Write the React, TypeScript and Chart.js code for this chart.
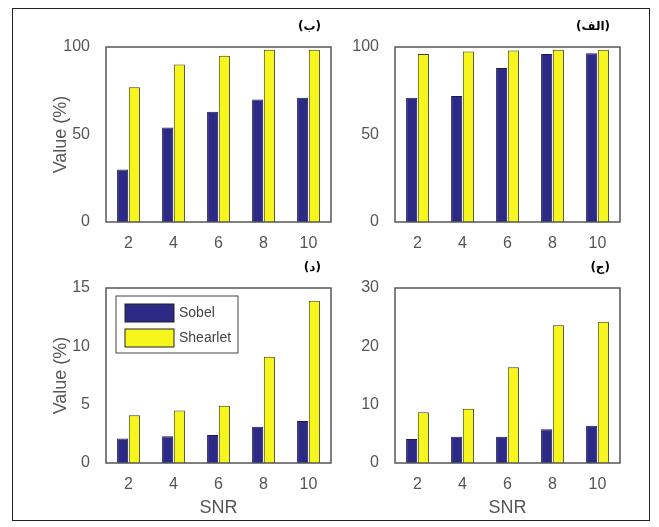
import { useEffect, useRef } from "react";
import Chart from "chart.js/auto";

const snr = ["2", "4", "6", "8", "10"];

const sobelB = [30, 54, 63, 70, 71];
const shearletB = [77, 90, 95, 98.5, 98.5];
const sobelAlef = [71, 72, 88, 96, 96.5];
const shearletAlef = [96, 97.5, 98, 98.5, 98.5];
const sobelD = [2.1, 2.3, 2.4, 3.1, 3.6];
const shearletD = [4.1, 4.5, 4.9, 9.1, 13.9];
const sobelJ = [4.1, 4.5, 4.5, 5.8, 6.4];
const shearletJ = [8.7, 9.3, 16.4, 23.6, 24.2];

const SOBEL = "#2c2a86";
const SHEARLET = "#f6f51c";
const PLOT_W = 225;
const PLOT_H = 175;
const Y_W = 60;
const PAD_TOP = 35;
const PAD_RIGHT = 15;

interface PanelProps {
  left: number;
  top: number;
  label: string;
  sobel: number[];
  shearlet: number[];
  max: number;
  step: number;
  yTitle: boolean;
  xTitle: boolean;
  legend: boolean;
}

function Panel({ left, top, label, sobel, shearlet, max, step, yTitle, xTitle, legend }: PanelProps) {
  const ref = useRef<HTMLCanvasElement>(null);
  const xH = xTitle ? 56 : 35;
  const w = Y_W + PLOT_W + PAD_RIGHT;
  const h = PAD_TOP + PLOT_H + xH;

  useEffect(() => {
    if (!ref.current) return;
    const chart = new Chart(ref.current, {
      type: "bar",
      data: {
        labels: snr,
        datasets: [
          { label: "Sobel", data: sobel, backgroundColor: SOBEL, borderColor: "#1a1850", borderWidth: 1 },
          { label: "Shearlet", data: shearlet, backgroundColor: SHEARLET, borderColor: "#3a3a10", borderWidth: 1 },
        ],
      },
      options: {
        animation: false,
        responsive: false,
        devicePixelRatio: 1,
        layout: { padding: { left: 0, right: PAD_RIGHT, top: PAD_TOP, bottom: 0 } },
        plugins: { legend: { display: false }, tooltip: { enabled: false } },
        datasets: { bar: { categoryPercentage: 0.52, barPercentage: 0.95 } },
        scales: {
          x: {
            grid: { display: false },
            border: { display: false },
            ticks: { color: "#555", font: { family: "Arial", size: 16 }, padding: 4 },
            title: { display: xTitle, text: "SNR", color: "#555", font: { family: "Arial", size: 18 }, padding: 0 },
            afterFit: (s: any) => { s.height = xH; },
          },
          y: {
            min: 0,
            max,
            grid: { display: false },
            border: { display: false },
            ticks: { stepSize: step, color: "#555", font: { family: "Arial", size: 16 }, padding: 8 },
            title: { display: yTitle, text: "Value (%)", color: "#555", font: { family: "Arial", size: 18 } },
            afterFit: (s: any) => { s.width = Y_W; },
          },
        },
      },
      plugins: [
        {
          id: "box",
          afterDraw(c) {
            const { ctx, chartArea: a } = c;
            ctx.save();
            ctx.strokeStyle = "#555";
            ctx.lineWidth = 1.5;
            ctx.strokeRect(a.left, a.top, a.right - a.left, a.bottom - a.top);
            ctx.fillStyle = "#000";
            ctx.font = "bold 12px 'DejaVu Sans'";
            ctx.textAlign = "right";
            ctx.textBaseline = "bottom";
            ctx.fillText(`(${label})`, a.right - 10, a.top - 14);
            if (legend) {
              const lx = a.left + 10;
              const ly = a.top + 8;
              ctx.fillStyle = "#fff";
              ctx.fillRect(lx, ly, 122, 57);
              ctx.strokeStyle = "#444";
              ctx.lineWidth = 1;
              ctx.strokeRect(lx, ly, 122, 57);
              const items: [string, string][] = [["Sobel", SOBEL], ["Shearlet", SHEARLET]];
              items.forEach(([t, col], i) => {
                const y = ly + 8 + i * 25;
                ctx.fillStyle = col;
                ctx.fillRect(lx + 9, y, 49, 18);
                ctx.strokeStyle = "#222";
                ctx.strokeRect(lx + 9, y, 49, 18);
                ctx.fillStyle = "#444";
                ctx.font = "14px Arial";
                ctx.textAlign = "left";
                ctx.textBaseline = "middle";
                ctx.fillText(t, lx + 63, y + 9);
              });
            }
            ctx.restore();
          },
        },
      ],
    });
    return () => chart.destroy();
  }, []);

  return (
    <canvas
      ref={ref}
      width={w}
      height={h}
      style={{ position: "absolute", left: left - Y_W, top: top - PAD_TOP, width: w, height: h }}
    />
  );
}

export default function App() {
  return (
    <div style={{ position: "fixed", left: 0, top: 0, width: 659, height: 527, background: "#fff" }}>
      <div style={{ position: "absolute", left: 12, top: 8, width: 636, height: 511, border: "1px solid #222" }} />
      <Panel left={106} top={47} label="ب" sobel={sobelB} shearlet={shearletB} max={100} step={50} yTitle xTitle={false} legend={false} />
      <Panel left={395} top={47} label="الف" sobel={sobelAlef} shearlet={shearletAlef} max={100} step={50} yTitle={false} xTitle={false} legend={false} />
      <Panel left={106} top={288} label="د" sobel={sobelD} shearlet={shearletD} max={15} step={5} yTitle xTitle legend />
      <Panel left={395} top={288} label="ج" sobel={sobelJ} shearlet={shearletJ} max={30} step={10} yTitle={false} xTitle legend={false} />
    </div>
  );
}
